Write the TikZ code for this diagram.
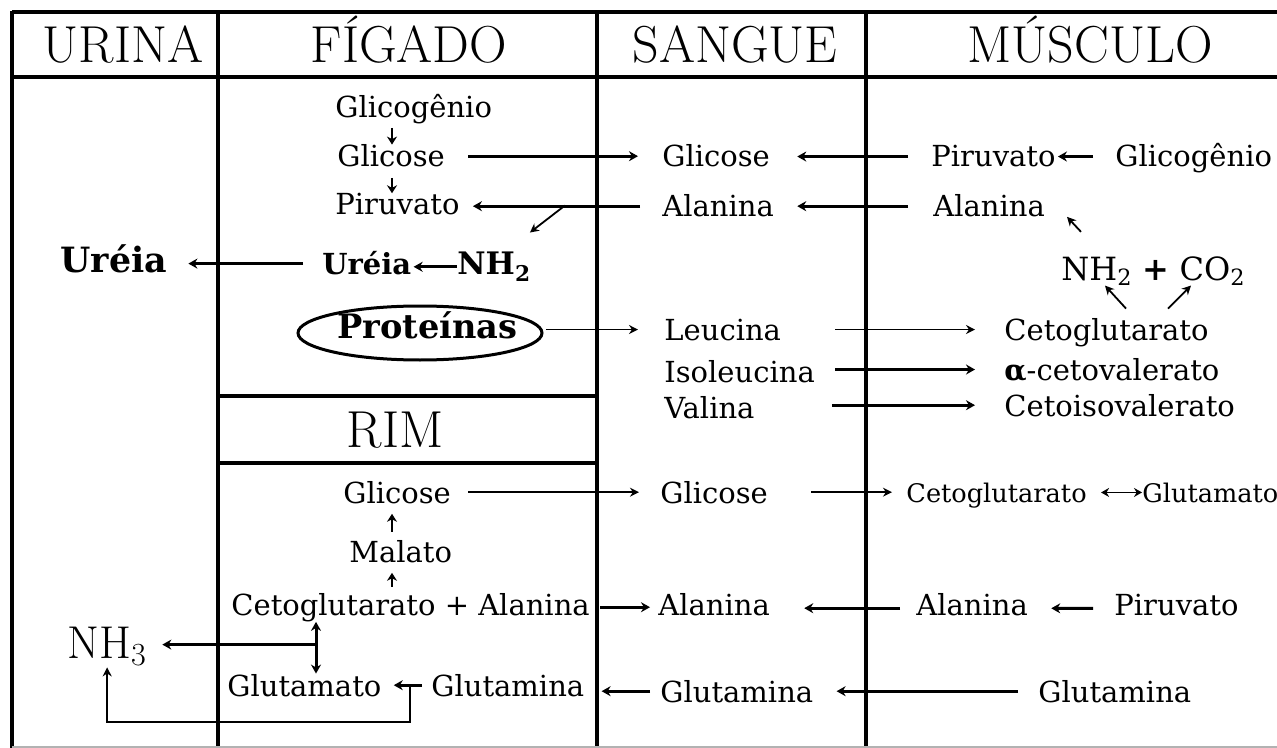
\documentclass[tikz,border=0pt]{standalone}
\usepackage{fontspec}
\newfontfamily\bodyfont{DejaVu Serif}
\usetikzlibrary{arrows.meta,shapes.geometric}
\begin{document}
\begin{tikzpicture}[x=0.5pt,y=-0.5pt,
  frame/.style={line width=2.3pt},
  hdr/.style={font=\fontsize{26}{30}\selectfont, inner sep=0, anchor=base},
  tx/.style={font=\bodyfont\fontsize{14.5}{17}\selectfont, inner sep=0, anchor=base west},
  txs/.style={font=\bodyfont\fontsize{12.8}{15}\selectfont, inner sep=0, anchor=base west},
  txb/.style={font=\bodyfont\bfseries\fontsize{14.5}{17}\selectfont, inner sep=0, anchor=base west},
  thk/.style={line width=1.5pt, -{Stealth[length=4.5pt,width=5pt]}},
  thn/.style={line width=0.9pt, -{Stealth[length=4.5pt,width=4.5pt]}},
  sv/.style={line width=1.4pt, -{Stealth[length=4pt,width=5pt]}},
  dbl/.style={line width=1.5pt, {Stealth[length=4.5pt,width=5pt]}-{Stealth[length=4.5pt,width=5pt]}},
  dbln/.style={line width=0.9pt, {Stealth[length=4pt,width=4.5pt]}-{Stealth[length=4pt,width=4.5pt]}}
]
\fill[white] (0,0) rectangle (1277,748);
\useasboundingbox (0,0) rectangle (1277,748);

% frame
\draw[frame] (12,12) -- (1277,12);
\draw[frame] (12,77) -- (1277,77);
\draw[frame] (12,11) -- (12,748);
\draw[frame] (218,12) -- (218,748);
\draw[frame] (597,12) -- (597,748);
\draw[frame] (866,12) -- (866,748);
\draw[frame] (218,396) -- (597,396);
\draw[frame] (218,463) -- (597,463);
\draw[gray!60, line width=0.6pt] (12,747) -- (1277,747);

% headers
\node[hdr] (hU) at (123,63) {URINA};
\node[hdr] (hF) at (409,63) {FÍGADO};
\node[hdr] (hS) at (735,63) {SANGUE};
\node[hdr] (hM) at (1090,63) {MÚSCULO};
\node[hdr] (hR) at (395,447) {RIM};

% urina
\node[font=\bodyfont\bfseries\fontsize{17.4}{20}\selectfont, inner sep=0, anchor=base west] (ureiaU) at (60,273) {Uréia};
\node[font=\fontsize{23}{26}\selectfont, inner sep=0, anchor=base west] (nh3) at (67,658) {NH\textsubscript{3}};

% figado
\node[tx] (glicogF) at (335,118) {Glicogênio};
\node[tx] (glicF) at (337,167) {Glicose};
\node[tx] (pirF) at (335,215) {Piruvato};
\node[txb] (ureiaF) at (322,275) {Uréia};
\node[font=\bodyfont\bfseries\fontsize{15.5}{17}\selectfont, inner sep=0, anchor=base west] (nh2F) at (457,275) {NH\textsubscript{2}};
\node[font=\bodyfont\bfseries\fontsize{16.8}{19}\selectfont, inner sep=0, anchor=base west] (prot) at (337,338) {Proteínas};
\draw[line width=1.5pt] (420,333) ellipse [x radius=122, y radius=27];

% rim
\node[tx] (glicR) at (343,503) {Glicose};
\node[tx] (malR) at (349,562) {Malato};
\node[tx] (cetoR) at (231,615) {Cetoglutarato + Alanina};
\node[tx] (gluR) at (227,696) {Glutamato};
\node[tx] (glnR) at (431,696) {Glutamina};

% sangue
\node[tx] (glicS) at (662,167) {Glicose};
\node[tx] (alaS) at (662,217) {Alanina};
\node[tx] (leuS) at (664,340) {Leucina};
\node[tx] (ileS) at (664,382) {Isoleucina};
\node[tx] (valS) at (664,418) {Valina};
\node[tx] (glicS2) at (660,503) {Glicose};
\node[tx] (alaS2) at (658,615) {Alanina};
\node[tx] (glnS) at (660,702) {Glutamina};

% musculo
\node[tx] (pirM) at (931,167) {Piruvato};
\node[tx] (glicogM) at (1115,167) {Glicogênio};
\node[tx] (alaM) at (933,217) {Alanina};
\node[font=\bodyfont\fontsize{16}{19}\selectfont, inner sep=0, anchor=base west] (nh2M) at (1061,280) {NH\textsubscript{2} {\bfseries +} CO\textsubscript{2}};
\node[tx] (cetoM) at (1004,340) {Cetoglutarato};
\node[tx] (alfaM) at (1004,380) {{\bfseries α}-cetovalerato};
\node[tx] (cetoisoM) at (1004,416) {Cetoisovalerato};
\node[txs] (cetoM2) at (906,502) {Cetoglutarato};
\node[txs] (gluM) at (1142,502) {Glutamato};
\node[tx] (alaM2) at (916,615) {Alanina};
\node[tx] (pirM2) at (1114,615) {Piruvato};
\node[tx] (glnM) at (1038,702) {Glutamina};

% connectors: figado / sangue / musculo (upper)
\draw[sv, shorten <=1.5pt] ([xshift=28.5pt]glicogF.south west) -- ([xshift=27.5pt]glicF.north west);
\draw[sv, shorten <=5pt] ([xshift=27.5pt]glicF.south west) -- ([xshift=28.5pt]pirF.north west);
\draw[thk, shorten <=11.5pt, shorten >=12pt] (glicF.east) -- (glicS.west);
\draw[thk, shorten <=11pt, shorten >=6.5pt] (alaS.west) -- (pirF.east |- alaS.west);
\draw[thn] ([xshift=52.5pt,yshift=-0.5pt]pirF.east) -- ([xshift=35pt,yshift=-14pt]pirF.east);
\draw[thk, shorten >=1pt] (nh2F.west) -- (ureiaF.east |- nh2F.west);
\draw[thk, shorten <=9.5pt, shorten >=10.5pt] (ureiaF.west) -- (ureiaU.east |- ureiaF.west);
\draw[thk, shorten <=11.5pt, shorten >=13.5pt] (pirM.west) -- (glicS.east |- pirM.west);
\draw[thk, shorten <=12.5pt, shorten >=11.5pt] (alaM.west) -- (alaS.east |- alaM.west);
\draw[thk, shorten <=11pt, shorten >=1pt] (glicogM.west |- pirM.east) -- (pirM.east);
\draw[thn] ([xshift=10pt,yshift=12pt]nh2M.north west) -- ([xshift=3pt,yshift=19.5pt]nh2M.north west);
\draw[thn] ([xshift=61pt,yshift=4.5pt]cetoM.north west) -- ([xshift=50.5pt,yshift=16pt]cetoM.north west);
\draw[thn] ([xshift=82pt,yshift=4.5pt]cetoM.north west) -- ([xshift=93.5pt,yshift=16pt]cetoM.north west);
\draw[thn, shorten <=14pt, shorten >=13pt] (prot.east |- leuS.west) -- (leuS.west);
\draw[thn, shorten <=27pt, shorten >=14.5pt] (leuS.east) -- (cetoM.west |- leuS.east);
\draw[thk, shorten <=10pt, shorten >=14.5pt] (ileS.east |- alfaM.west) -- (alfaM.west);
\draw[thk, shorten <=38.5pt, shorten >=14.5pt] (valS.east |- cetoisoM.west) -- (cetoisoM.west);

% connectors: rim / lower
\draw[thn, shorten <=8.5pt, shorten >=10.5pt] (glicR.east) -- (glicS2.west |- glicR.east);
\draw[thn, shorten <=21.5pt, shorten >=7pt] (glicS2.east) -- (cetoM2.west |- glicS2.east);
\draw[dbln, shorten <=7pt] (cetoM2.east |- gluM.west) -- (gluM.west);
\draw[sv, shorten <=4pt, shorten >=5pt] ([xshift=21.5pt]malR.north west) -- ([xshift=24.5pt]glicR.south west);
\draw[sv, shorten <=3pt, shorten >=5pt] ([xshift=80.5pt]cetoR.north west) -- ([xshift=21.5pt]malR.south west);
\draw[thk, shorten <=5pt, shorten >=4pt] (cetoR.east) -- (alaS2.west |- cetoR.east);
\draw[thk, shorten <=8pt, shorten >=17pt] ([yshift=-2pt]alaM2.west) -- ([yshift=-2pt]alaS2.east);
\draw[thk, shorten <=10.5pt, shorten >=11.5pt] ([yshift=-2pt]pirM2.west) -- ([yshift=-2pt]alaM2.east);
\draw[dbl] ([xshift=42.5pt]cetoR.south west) -- coordinate[pos=0.44] (nhj) ([xshift=44.5pt]gluR.north west);
\draw[thk, shorten >=7.5pt] (nhj) -- (nh3.east |- nhj);
\draw[thk, shorten <=4.5pt, shorten >=6pt] (glnR.west) -- (gluR.east |- glnR.west);
\draw[thk, shorten <=5pt, shorten >=8.5pt] (glnS.west) -- (glnR.east |- glnS.west);
\draw[thk, shorten <=10pt, shorten >=11.5pt] (glnM.west) -- (glnS.east |- glnM.west);
\draw[thn, shorten >=0.5pt] ([xshift=-10.5pt]glnR.west) -- ++(0,37) -| (nh3.south);
\end{tikzpicture}
\end{document}
